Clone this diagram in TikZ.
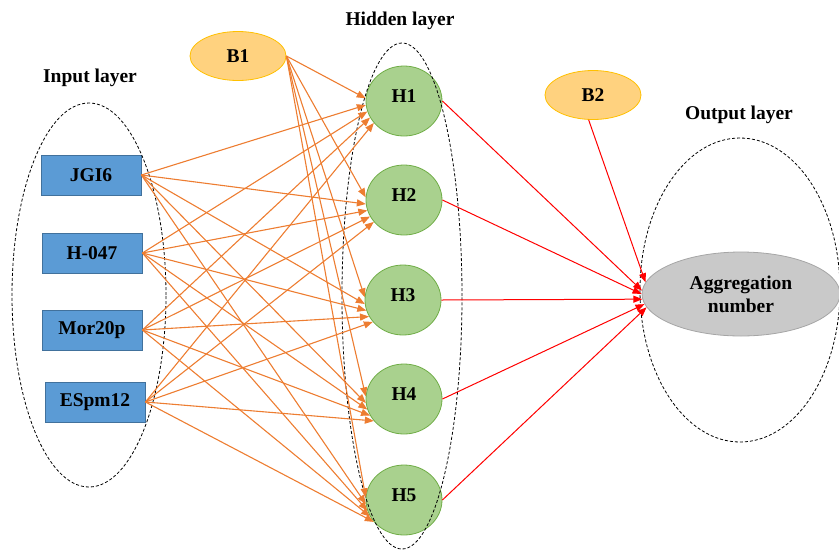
\documentclass[tikz,border=0pt]{standalone}
\usepackage{fontspec}
\setmainfont{Liberation Serif}
\usetikzlibrary{shapes.geometric,arrows.meta}
\definecolor{inblue}{HTML}{5B9BD5}
\definecolor{inblueb}{HTML}{41719C}
\definecolor{hgreen}{HTML}{A9D18E}
\definecolor{hgreenb}{HTML}{70AD47}
\definecolor{bfill}{HTML}{FFD27F}
\definecolor{bborder}{HTML}{FFC000}
\definecolor{orarrow}{HTML}{ED7D31}
\definecolor{aggfill}{HTML}{C9C9C9}
\definecolor{aggb}{HTML}{A5A5A5}
\newcommand{\uplbl}[1]{\raisebox{5pt}[\height][\depth]{#1}}
\begin{document}
\begin{tikzpicture}[x=1pt,y=-1pt,
  every node/.style={font=\fontsize{19.5}{21}\selectfont\bfseries},
  inbox/.style={draw=inblueb,fill=inblue,line width=0.8pt,minimum width=100pt,minimum height=40pt,inner sep=0pt},
  hnode/.style={ellipse,draw=hgreenb,fill=hgreen,line width=0.8pt,minimum width=76pt,minimum height=70pt,inner sep=0pt},
  bnode/.style={ellipse,draw=bborder,fill=bfill,line width=0.8pt,minimum width=96pt,minimum height=49pt,inner sep=0pt},
  layer/.style={draw=black,densely dashed,line width=0.8pt},
  oarr/.style={draw=orarrow,line width=1.1pt,-{Triangle[length=9pt,width=7pt]}},
  rarr/.style={draw=red,line width=1pt,-{Triangle[length=9pt,width=7pt]}},
  title/.style={inner sep=0pt}
]
\useasboundingbox (0,0) rectangle (839,550);

% titles
\node[title] (tin) at (90,78) {Input layer};
\node[title] (thid) at (400,21) {Hidden layer};
\node[title] (tout) at (739,115) {Output layer};

% input nodes
\node[inbox] (i1) at (91,175) {JGI6};
\node[inbox] (i2) at (92,253) {H-047};
\node[inbox] (i3) at (92,330) {Mor20p};
\node[inbox] (i4) at (95,402) {ESpm12};

% bias nodes
\node[bnode] (b1) at (238,56) {B1};
\node[bnode] (b2) at (593,95) {B2};

% hidden nodes
\node[hnode] (h1) at (404,101) {\uplbl{H1}};
\node[hnode] (h2) at (404,200) {\uplbl{H2}};
\node[hnode] (h3) at (403,300) {\uplbl{H3}};
\node[hnode] (h4) at (404,399) {\uplbl{H4}};
\node[hnode] (h5) at (404,500) {\uplbl{H5}};

% output node
\node[ellipse,draw=aggb,fill=aggfill,line width=0.8pt,minimum width=198pt,minimum height=84pt,inner sep=0pt,align=center] (agg) at (741,294) {Aggregation\\[2pt]number};

% layer ellipses
\node[ellipse,layer,minimum width=154pt,minimum height=384pt] (lin) at (89,295) {};
\node[ellipse,layer,minimum width=120pt,minimum height=506pt] (lhid) at (402,296) {};
\node[ellipse,layer,minimum width=200pt,minimum height=304pt] (lout) at (740,290) {};

% orange arrows
\foreach \s/\a in {b1/176,i1/186,i2/196,i3/206,i4/216}{
  \foreach \t in {h1,h2,h3,h4,h5}{
    \draw[oarr] (\s.east) -- (\t.\a);
  }
}

% red arrows
\draw[rarr] (h1.east) -- (agg.178);
\draw[rarr] (h2.east) -- (agg.180);
\draw[rarr] (h3.east) -- (agg.183);
\draw[rarr] (h4.east) -- (agg.186);
\draw[rarr] (h5.east) -- (agg.188);
\draw[rarr] (b2.-100) -- (agg.173);
\end{tikzpicture}
\end{document}
